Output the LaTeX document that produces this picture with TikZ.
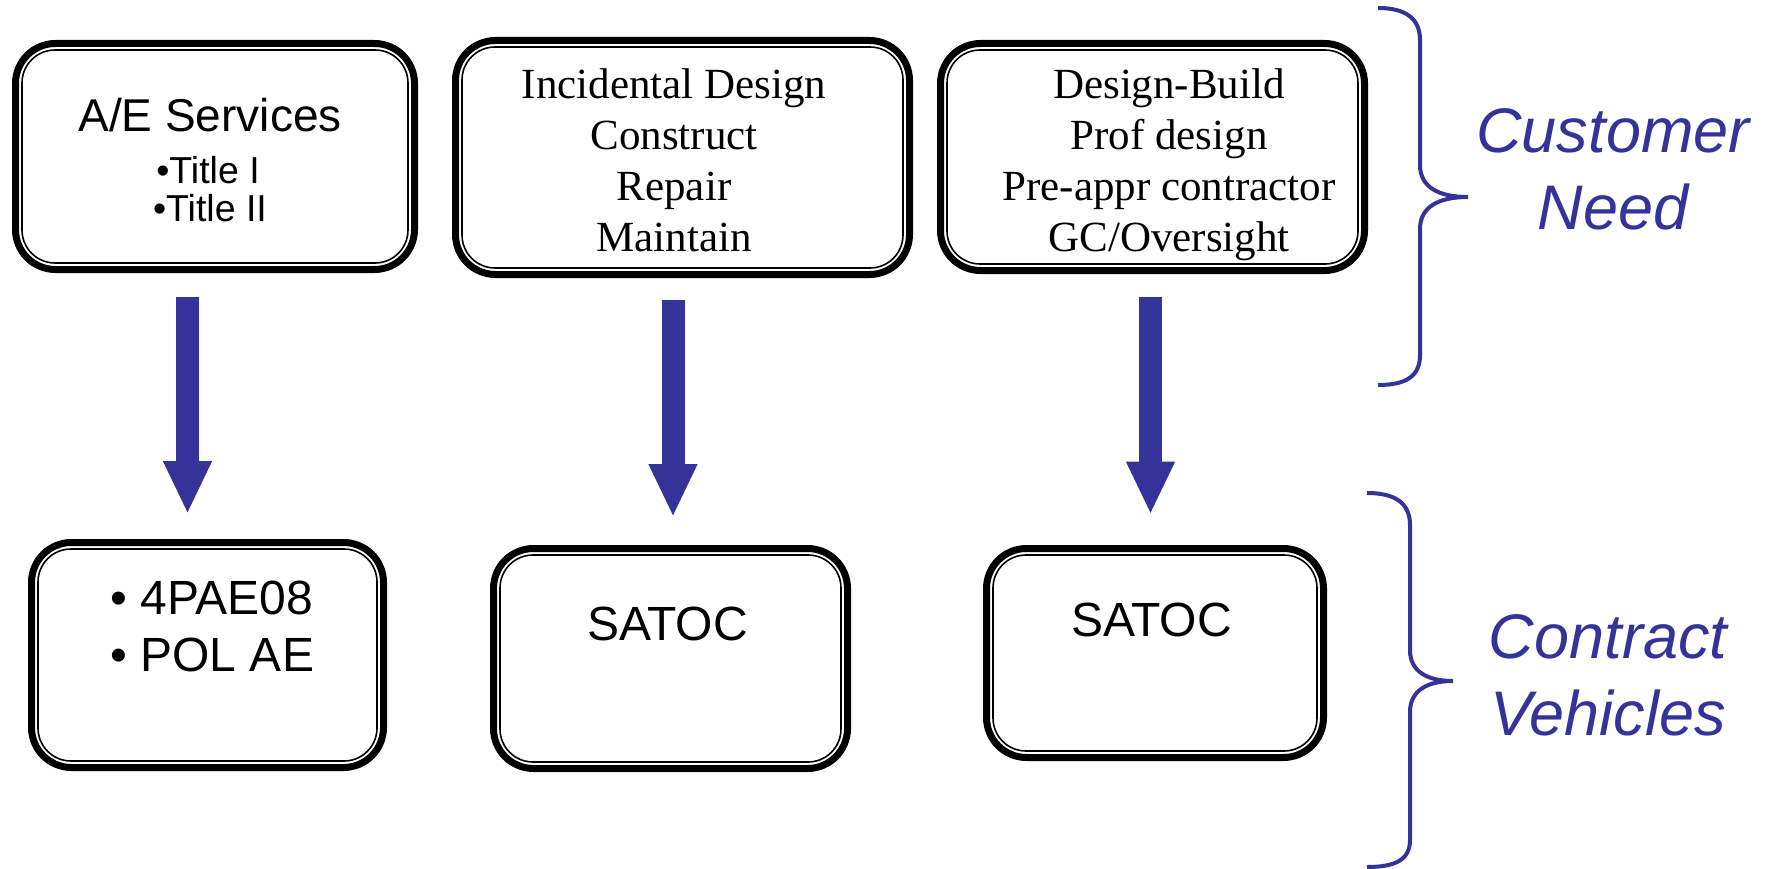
\documentclass[tikz,border=0pt]{standalone}
\usepackage{fontspec}
\setmainfont{Liberation Sans}
\newfontfamily\seriff{Liberation Serif}
\usetikzlibrary{arrows.meta}
\definecolor{navy}{RGB}{51,51,153}
\begin{document}
\begin{tikzpicture}[x=1pt,y=-1pt,
  box/.style={draw=black, line width=7pt, rounded corners=40pt, rectangle, inner sep=0pt, outer sep=0pt, fill=white},
  innerline/.style={draw=black, line width=1.6pt, rounded corners=33pt},
  bigarrow/.style={draw=navy, line width=23pt, -{Triangle[length=53pt 0, width=45pt 0]}},
  brace/.style={draw=navy, line width=4pt},
  txt/.style={inner sep=0pt, outer sep=0pt, text=black},
  sanstxt/.style={txt, font=\fontsize{#1}{#1}\selectfont},
  seriftxt/.style={txt, align=center, font=\seriff\fontsize{43pt}{51pt}\selectfont},
  lbl/.style={txt, text=navy, align=center, font=\itshape\fontsize{63pt}{77pt}\selectfont}
]
\useasboundingbox (0,0) rectangle (1770,869);

% boxes
\node[box, minimum width=399pt, minimum height=226pt] (b1) at (215,156.5) {};
\node[box, minimum width=454pt, minimum height=234pt] (b2) at (682.5,157.5) {};
\node[box, minimum width=424pt, minimum height=227pt] (b3) at (1152.5,157) {};
\node[box, minimum width=352pt, minimum height=225pt] (b4) at (207.5,655) {};
\node[box, minimum width=354pt, minimum height=220pt] (b5) at (670.5,658.5) {};
\node[box, minimum width=337pt, minimum height=209pt] (b6) at (1155,653) {};
\foreach \n in {b1,b2,b3,b4,b5,b6}
  \draw[innerline] ([xshift=6.5pt,yshift=-6.5pt]\n.north west) rectangle ([xshift=-6.5pt,yshift=6.5pt]\n.south east);

% texts
\node[sanstxt=46pt, anchor=base] (t1a) at (210,132) {A/E Services};
\node[sanstxt=37.5pt, anchor=base] (t1b) at (208,183.5) {•Title I};
\node[sanstxt=37.5pt, anchor=base] (t1c) at (210,222) {•Title II};
\node[seriftxt, anchor=north] (t2) at (674,68.6) {Incidental Design\\Construct\\Repair\\Maintain};
\node[seriftxt, anchor=north] (t3) at (1169,68.6) {Design-Build\\Prof design\\Pre-appr contractor\\GC/Oversight};
\node[txt, align=left, anchor=north west, font=\fontsize{48pt}{57pt}\selectfont] (t4) at (110.5,580.6) {• 4PAE08\\• POL AE};
\node[sanstxt=48pt, anchor=base] (t5) at (667.5,640) {SATOC};
\node[sanstxt=48pt, anchor=base] (t6) at (1151.5,636.5) {SATOC};

% arrows
\draw[bigarrow] ([xshift=-27.5pt,yshift=-27.5pt]b1.south) -- ([xshift=-20pt,yshift=28.5pt]b4.north);
\draw[bigarrow] ([xshift=-9.5pt,yshift=-25.5pt]b2.south) -- ([xshift=2.5pt,yshift=31.5pt]b5.north);
\draw[bigarrow] ([xshift=-2pt,yshift=-26.5pt]b3.south) -- ([xshift=-4.5pt,yshift=34pt]b6.north);

% braces
\draw[brace] (1378,8) .. controls (1405,8) and (1420,18) .. (1420,40) -- (1420,165)
  .. controls (1420,188) and (1440,197) .. (1468,197)
  .. controls (1440,197) and (1420,206) .. (1420,229) -- (1420,355)
  .. controls (1420,377) and (1405,385) .. (1378,385);
\draw[brace] (1367,493) .. controls (1395,493) and (1410,503) .. (1410,525) -- (1410,650)
  .. controls (1410,672) and (1428,681) .. (1453,681)
  .. controls (1428,681) and (1410,690) .. (1410,712) -- (1410,840)
  .. controls (1410,860) and (1395,867) .. (1367,867);

% side labels
\node[lbl, anchor=north] (need) at (1613,109) {Customer\\Need};
\node[lbl, anchor=north] (veh) at (1608,615) {Contract\\Vehicles};
\end{tikzpicture}
\end{document}
